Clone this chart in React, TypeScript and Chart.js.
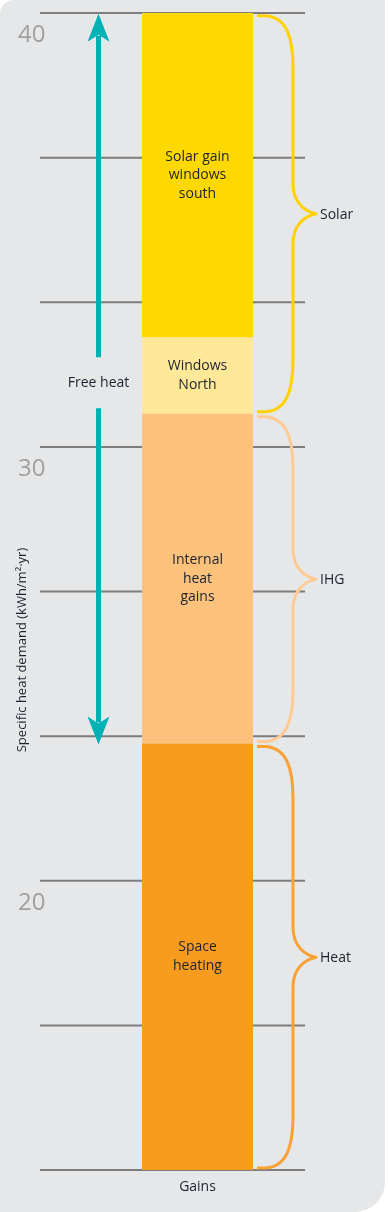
import React, { useEffect, useRef } from "react";
import { Chart, registerables } from "chart.js";

Chart.register(...registerables);

// ---- data ----
const categories = ["Gains"];
const segmentNames = ["Space heating", "Internal heat gains", "Windows North", "Solar gain windows south"];
const segmentLines = [["Space", "heating"], ["Internal", "heat", "gains"], ["Windows", "North"], ["Solar gain", "windows", "south"]];
const segmentValues = [9.83, 7.6, 1.76, 7.48];
const axisMin = 40 - 80 / 3;
const axisMax = 40;
const yTickValues = [40 - 80 / 3, 40 - 70 / 3, 20, 40 - 50 / 3, 40 - 40 / 3, 30, 40 - 20 / 3, 40 - 10 / 3, 40];
const yTickLabels = ["", "", "20", "", "", "30", "", "", "40"];
const groupNames = ["Heat", "IHG", "Solar"];
const groupSegments = [[0], [1], [2, 3]];
const freeHeatSegments = [1, 2, 3];
const freeHeatLabel = "Free heat";
const yTitle = "Specific heat demand (kWh/m²·yr)";

// ---- styles ----
const FONT = '"Open Sans", "Noto Sans", sans-serif';
const segmentColors = ["#f89c1f", "#fcc17b", "#ffe898", "#ffd800"];
const braceColors = ["#f9a133", "#fdcb93", "#ffd200"];
const TEXT = "#1c2230";
const TEAL = "#00b2b5";

const ranges: number[][] = [];
{
  let acc = axisMin;
  for (const v of segmentValues) {
    ranges.push([acc, acc + v]);
    acc += v;
  }
}

const overlay = {
  id: "overlay",
  beforeDraw(chart: any) {
    const { ctx, width, height } = chart;
    ctx.save();
    ctx.fillStyle = "#ffffff";
    ctx.fillRect(0, 0, width, height);
    ctx.fillStyle = "#e6e7e8";
    const r1 = 14, r2 = 30, R = 385;
    ctx.beginPath();
    ctx.moveTo(r1, 0);
    ctx.lineTo(R, 0);
    ctx.lineTo(R, height - r2);
    ctx.arcTo(R, height, R - r2, height, r2);
    ctx.lineTo(0, height);
    ctx.lineTo(0, r1);
    ctx.arcTo(0, 0, r1, 0, r1);
    ctx.closePath();
    ctx.fill();
    ctx.restore();
  },
  beforeDatasetsDraw(chart: any) {
    const { ctx, chartArea } = chart;
    const y = chart.scales.y;
    const bar = chart.getDatasetMeta(0).data[0];
    const right = bar.x + bar.width / 2 + 52;
    ctx.save();
    ctx.strokeStyle = "#7d7d7d";
    ctx.lineWidth = 2;
    y.ticks.forEach((t: any) => {
      const py = y.getPixelForValue(t.value);
      ctx.beginPath();
      ctx.moveTo(chartArea.left, py);
      ctx.lineTo(right, py);
      ctx.stroke();
    });
    ctx.restore();
  },
  afterDatasetsDraw(chart: any) {
    const { ctx, chartArea } = chart;
    const y = chart.scales.y;
    ctx.save();
    // segment labels
    ctx.fillStyle = TEXT;
    ctx.font = `14px ${FONT}`;
    ctx.textAlign = "center";
    ctx.textBaseline = "middle";
    segmentLines.forEach((lines, i) => {
      const el = chart.getDatasetMeta(i).data[0];
      const cy = (el.y + el.base) / 2;
      const lh = 18.5;
      lines.forEach((ln, k) => {
        ctx.fillText(ln, el.x, cy + (k - (lines.length - 1) / 2) * lh);
      });
    });
    // braces
    const bar = chart.getDatasetMeta(0).data[0];
    const bx = bar.x + bar.width / 2;
    const x0 = bx + 4, x1 = bx + 13, xv = bx + 40, xt = bx + 63;
    groupSegments.forEach((segs, g) => {
      const lo = ranges[segs[0]][0];
      const hi = ranges[segs[segs.length - 1]][1];
      const yT = y.getPixelForValue(hi) + 3;
      const yB = y.getPixelForValue(lo) - 2;
      const yM = (yT + yB) / 2;
      ctx.strokeStyle = braceColors[g];
      ctx.lineWidth = 3;
      ctx.lineJoin = "round";
      ctx.beginPath();
      ctx.moveTo(x0, yT);
      ctx.lineTo(x1, yT);
      ctx.bezierCurveTo(xv - 6, yT + 2, xv, yT + 22, xv, yT + 52);
      ctx.lineTo(xv, yM - 30);
      ctx.bezierCurveTo(xv, yM - 10, xt - 10, yM - 2, xt, yM);
      ctx.bezierCurveTo(xt - 10, yM + 2, xv, yM + 10, xv, yM + 30);
      ctx.lineTo(xv, yB - 52);
      ctx.bezierCurveTo(xv, yB - 22, xv - 6, yB - 2, x1, yB);
      ctx.lineTo(x0, yB);
      ctx.stroke();
      ctx.fillStyle = TEXT;
      ctx.textAlign = "left";
      ctx.textBaseline = "middle";
      ctx.font = `14px ${FONT}`;
      ctx.fillText(groupNames[g], xt + 4, yM + 1);
    });
    // free heat arrow
    const ax = chartArea.left + 58.5;
    const fLo = ranges[freeHeatSegments[0]][0];
    const fHi = ranges[freeHeatSegments[freeHeatSegments.length - 1]][1];
    const yTop = y.getPixelForValue(fHi) + 1;
    const yBot = y.getPixelForValue(fLo) + 1;
    const yMid = (yTop + yBot) / 2 + 4;
    ctx.strokeStyle = TEAL;
    ctx.fillStyle = TEAL;
    ctx.lineWidth = 5;
    ctx.lineCap = "butt";
    ctx.beginPath();
    ctx.moveTo(ax, yTop + 22);
    ctx.lineTo(ax, yMid - 26);
    ctx.moveTo(ax, yMid + 25);
    ctx.lineTo(ax, yBot - 22);
    ctx.stroke();
    const head = (tipY: number, dir: number) => {
      ctx.beginPath();
      ctx.moveTo(ax, tipY);
      ctx.lineTo(ax + 11, tipY + dir * 28);
      ctx.lineTo(ax, tipY + dir * 21);
      ctx.lineTo(ax - 11, tipY + dir * 28);
      ctx.closePath();
      ctx.fill();
    };
    head(yTop, 1);
    head(yBot, -1);
    ctx.fillStyle = TEXT;
    ctx.textAlign = "center";
    ctx.textBaseline = "middle";
    ctx.font = `14px ${FONT}`;
    ctx.fillText(freeHeatLabel, ax, yMid);
    // y title
    ctx.save();
    ctx.translate(22, 650);
    ctx.rotate(-Math.PI / 2);
    ctx.font = `13px ${FONT}`;
    ctx.fillText(yTitle, 0, 0);
    ctx.restore();
    ctx.restore();
  },
};

export default function App() {
  const ref = useRef<HTMLCanvasElement>(null);
  useEffect(() => {
    if (!ref.current) return;
    const chart = new Chart(ref.current, {
      type: "bar",
      data: {
        labels: categories,
        datasets: segmentNames.map((name, i) => ({
          label: name,
          data: [ranges[i] as any],
          backgroundColor: segmentColors[i],
          borderWidth: 0,
          grouped: false,
          categoryPercentage: 1,
          barPercentage: 111 / 315,
        })),
      },
      options: {
        animation: false,
        responsive: false,
        maintainAspectRatio: false,
        layout: { padding: { left: 18, right: 33, top: 13, bottom: 0 } },
        plugins: { legend: { display: false }, tooltip: { enabled: false }, title: { display: false } },
        scales: {
          x: {
            grid: { display: false, drawTicks: false },
            border: { display: false },
            ticks: { color: TEXT, font: { family: FONT, size: 14 }, padding: 9 },
            afterFit: (s: any) => { s.height = 42; },
          },
          y: {
            min: axisMin,
            max: axisMax,
            grid: { display: false, drawTicks: false },
            border: { display: false },
            afterBuildTicks: (s: any) => { s.ticks = yTickValues.map((v) => ({ value: v })); },
            ticks: {
              autoSkip: false,
              callback: (_v: any, i: number) => yTickLabels[i],
              color: "#a0a0a0",
              font: { family: FONT, size: 24 },
              mirror: true,
              padding: -22,
              crossAlign: "near",
              labelOffset: 22,
            },
            afterFit: (s: any) => { s.width = 22; },
          },
        },
      },
      plugins: [overlay],
    } as any);
    return () => chart.destroy();
  }, []);
  return (
    <div style={{ position: "absolute", left: 0, top: 0, width: 388, height: 1212 }}>
      <canvas ref={ref} width={388} height={1212} style={{ display: "block" }} />
    </div>
  );
}
